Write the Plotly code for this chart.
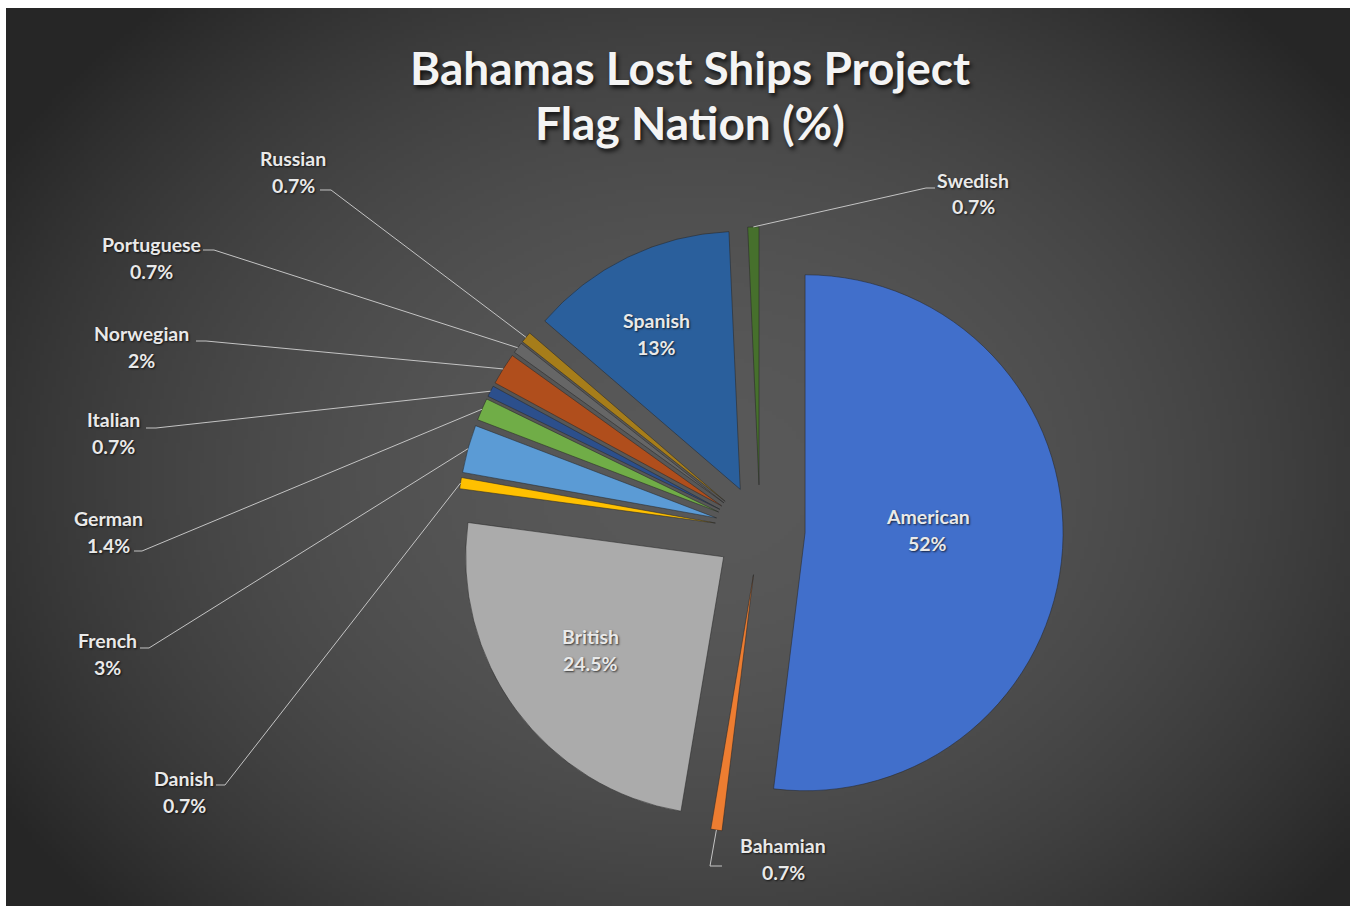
import base64, struct, zlib
import numpy as np
import plotly.graph_objects as go

# ---------------- data ----------------
nations = ["American", "Bahamian", "British", "Danish", "French", "German",
           "Italian", "Norwegian", "Portuguese", "Russian", "Spanish", "Swedish"]
shares = [52, 0.7, 24.5, 0.7, 3, 1.4, 0.7, 2, 0.7, 0.7, 13, 0.7]
title_lines = ["Bahamas Lost Ships Project", "Flag Nation (%)"]

# ---------------- style / layout ----------------
W, H = 1352, 906
colors = ["#416fcb", "#ED7D31", "#ABABAB", "#FFC000", "#5B9BD5", "#70AD47",
          "#2c4f8c", "#b04e1c", "#666666", "#a67d1a", "#2a5f9c", "#46702c"]
PULL = 0.175
CX, CY = 760, 530          # pie centre in px
R = 258                    # pie radius in px
box = 2 * R * (1 + PULL)
dom_x = [(CX - box / 2) / W, (CX + box / 2) / W]
dom_y = [1 - (CY + box / 2) / H, 1 - (CY - box / 2) / H]

# label placement (px): centre of the name line
label_pos = {
    "American": (928, 516), "British": (590, 636), "Spanish": (656, 321),
    "Russian": (293, 158), "Portuguese": (151, 244), "Norwegian": (141, 333),
    "Italian": (113, 420), "German": (108, 518), "French": (107, 640),
    "Danish": (184, 778), "Bahamian": (783, 845), "Swedish": (973, 180),
}
# leader line start points near the labels (px), plus elbow
leader_start = {
    "Russian": [(320, 190), (331, 190)],
    "Portuguese": [(203, 250), (214, 250)],
    "Norwegian": [(196, 341), (206, 341)],
    "Italian": [(146, 428), (156, 428)],
    "German": [(134, 551), (142, 551)],
    "French": [(140, 648), (149, 648)],
    "Danish": [(216, 785), (225, 785)],
    "Swedish": [(935, 188), (926, 188)],
    "Bahamian": [(722, 866), (710, 866)],
}


def px(x, y):
    return x / W, 1 - y / H


# ---------------- background gradient ----------------
def gradient_png():
    gw, gh = 336, 224
    xs = 6 + (np.arange(gw) + 0.5) * (1344 / gw)
    ys = 8 + (np.arange(gh) + 0.5) * (898 / gh)
    X, Y = np.meshgrid(xs, ys)
    d = np.sqrt(((X - 700) / 820) ** 2 + ((Y - 480) / 640) ** 2)
    v = 38 + 51 * np.clip(1 - d ** 2, 0, 1)
    arr = np.repeat(v[:, :, None], 3, axis=2).astype(np.uint8)
    raw = b"".join(b"\x00" + arr[i].tobytes() for i in range(gh))

    def chunk(t, dat):
        c = struct.pack(">I", len(dat)) + t + dat
        return c + struct.pack(">I", zlib.crc32(t + dat) & 0xffffffff)

    png = (b"\x89PNG\r\n\x1a\n"
           + chunk(b"IHDR", struct.pack(">IIBBBBB", gw, gh, 8, 2, 0, 0, 0))
           + chunk(b"IDAT", zlib.compress(raw, 9))
           + chunk(b"IEND", b""))
    return "data:image/png;base64," + base64.b64encode(png).decode()


fig = go.Figure(go.Pie(
    labels=nations, values=shares, sort=False, direction="clockwise",
    rotation=0, pull=[PULL] * len(shares), textinfo="none",
    hoverinfo="label+percent",
    marker=dict(colors=colors, line=dict(color="rgba(40,40,40,0.55)", width=1)),
    domain=dict(x=dom_x, y=dom_y), showlegend=False,
))

FONT = "Lato"
shadow = "1px 1px 2px rgba(0,0,0,0.7)"
annotations = []
shapes = []

# title (two lines)
for k, line in enumerate(title_lines):
    annotations.append(dict(
        text=line, x=690 / W, y=1 - (68 + 54 * k) / H, xref="paper", yref="paper",
        xanchor="center", yanchor="middle", showarrow=False,
        font=dict(family=FONT, size=46, color="#f4f4f4", weight="bold",
                  shadow="2px 3px 4px rgba(0,0,0,0.75)"),
    ))

total = sum(shares)
cum = 0.0
Rout = R * (1 + PULL)
for name, val in zip(nations, shares):
    mid = (cum + val / 2) / total * 2 * np.pi
    cum += val
    lx, ly = label_pos[name]
    col = "#e9e9e9"
    for k, txt in enumerate([name, f"{val:g}%"]):
        x, y = px(lx, ly + 27 * k)
        annotations.append(dict(
            text=txt, x=x, y=y, xref="paper", yref="paper",
            xanchor="center", yanchor="middle", showarrow=False,
            font=dict(family=FONT, size=19.5, color=col, weight="bold",
                      shadow=shadow),
        ))
    if name in leader_start:
        ex = CX + Rout * np.sin(mid)
        ey = CY - Rout * np.cos(mid)
        pts = leader_start[name] + [(ex, ey)]
        path = "M " + " L ".join(f"{px(a, b)[0]:.5f},{px(a, b)[1]:.5f}" for a, b in pts)
        shapes.append(dict(type="path", path=path, xref="paper", yref="paper",
                           line=dict(color="#c4c4c4", width=1)))

fig.update_layout(
    width=W, height=H, margin=dict(l=0, r=0, t=0, b=0),
    paper_bgcolor="white", plot_bgcolor="white",
    annotations=annotations, shapes=shapes,
    images=[dict(source=gradient_png(), xref="paper", yref="paper",
                 x=6 / W, y=1 - 8 / H, sizex=1344 / W, sizey=898 / H,
                 xanchor="left", yanchor="top", sizing="stretch",
                 layer="below")],
)

fig.write_html("out.html")
